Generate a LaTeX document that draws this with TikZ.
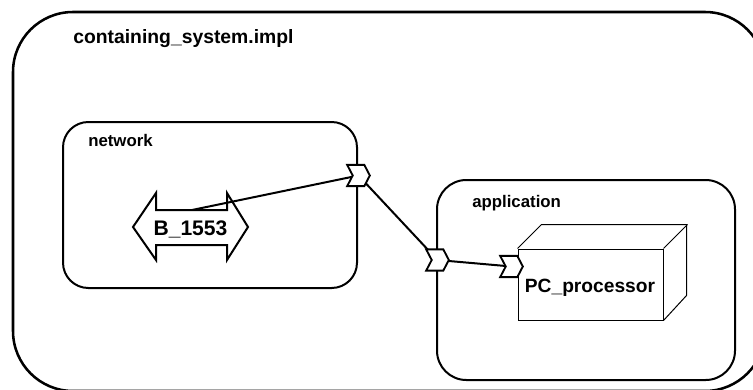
\documentclass[tikz,border=0pt]{standalone}
\usepackage{fontspec}
\setmainfont{Liberation Sans}
\usetikzlibrary{shapes.symbols, positioning}

\begin{document}
\begin{tikzpicture}[
  x=0.75pt, y=-0.75pt,
  compbox/.style={draw, line width=1.5pt},
  port/.style={signal, signal to=east, signal from=west, signal pointer angle=125,
    draw, fill=white, line width=1.4pt, minimum width=17pt, minimum height=16pt,
    inner sep=0pt, outer sep=0pt},
  link/.style={line width=1.5pt},
  lbl/.style={anchor=base west, inner sep=0pt, font=\bfseries\fontsize{12.6}{14}\selectfont},
  bigtext/.style={anchor=base, inner sep=0pt, font=\bfseries\fontsize{14.4}{16}\selectfont}
]
  \useasboundingbox (0,0) rectangle (753,389);

  % containing system (cut off at the right and bottom)
  \begin{scope}
    \clip (0,0) rectangle (753,389);
    \draw[line width=1.9pt, rounded corners=45pt] (13,12) rectangle (765,391);
  \end{scope}
  \node[lbl, font=\bfseries\fontsize{14.5}{16}\selectfont] (systitle) at (73,43) {containing\_system.impl};

  % subcomponents
  \draw[compbox, rounded corners=19pt] (63,122) rectangle (357,288);
  \node[lbl] (netlbl) at (88,146) {network};
  \draw[compbox, rounded corners=22pt] (437,180) rectangle (735,380);
  \node[lbl] (applbl) at (472,207) {application};

  % bus
  \draw[line width=1.5pt, fill=white] (133,227) -- (156,193) -- (156,210) -- (227,210)
    -- (227,193) -- (248,227) -- (227,260) -- (227,245) -- (156,245) -- (156,260) -- cycle;
  \node[bigtext, font=\bfseries\fontsize{15.8}{18}\selectfont] (bus) at (190.5,235) {B\_1553};
  \coordinate (busout) at (192,210);

  % processor
  \node[draw, line width=0.75pt, minimum width=108.75pt, minimum height=53.25pt,
    inner sep=0pt] (proc) at (590.5,284.5) {};
  \draw[line width=0.75pt] (proc.north west) -- ++(24,-24) -- ++(145,0) -- ++(0,71) -- (proc.south east);
  \draw[line width=0.75pt] (proc.north east) -- ++(24,-24);
  \node[bigtext] (proctext) at (590,292) {PC\_processor};

  % connections
  \coordinate (netp) at (358.5,175.5);
  \coordinate (appp) at (437.5,260);
  \coordinate (procp) at (511.5,266.5);
  \draw[link] (busout) -- (netp);
  \draw[link] (netp) -- (appp);
  \draw[link] (appp) -- (procp);
  \node[port] (netport) at (netp) {};
  \node[port] (appport) at (appp) {};
  \node[port] (procport) at (procp) {};
\end{tikzpicture}
\end{document}
